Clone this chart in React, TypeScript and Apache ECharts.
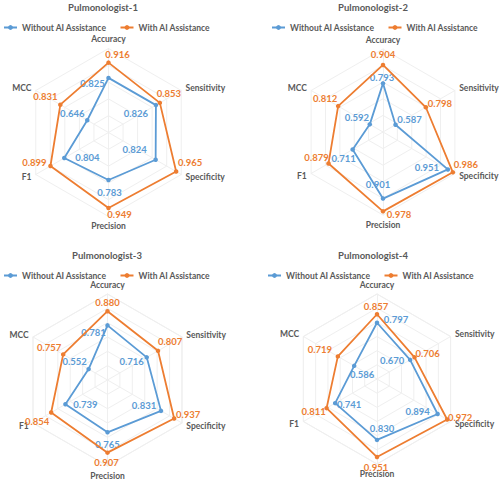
import React, { useEffect, useRef } from "react";
import * as echarts from "echarts";

// ---- data ----
const METRICS = ["Accuracy", "Sensitivity", "Specificity", "Precision", "F1", "MCC"];
const SERIES_NAMES = ["Without AI Assistance", "With AI Assistance"];
const TITLES = ["Pulmonologist-1", "Pulmonologist-2", "Pulmonologist-3", "Pulmonologist-4"];

const p1Without = [0.825, 0.826, 0.824, 0.783, 0.804, 0.646];
const p1With = [0.916, 0.853, 0.965, 0.949, 0.899, 0.831];
const p2Without = [0.793, 0.587, 0.951, 0.901, 0.711, 0.592];
const p2With = [0.904, 0.798, 0.986, 0.978, 0.879, 0.812];
const p3Without = [0.781, 0.716, 0.831, 0.765, 0.739, 0.552];
const p3With = [0.88, 0.807, 0.937, 0.907, 0.854, 0.757];
const p4Without = [0.797, 0.67, 0.894, 0.83, 0.741, 0.586];
const p4With = [0.857, 0.706, 0.972, 0.951, 0.811, 0.719];

const AXIS_MIN = [0.5, 0.5, 0.4, 0.4];
const AXIS_MAX = 1.0;
const AXIS_STEP = 0.1;

const VALUES = [
  [p1Without, p1With],
  [p2Without, p2With],
  [p3Without, p3With],
  [p4Without, p4With],
];

// ---- layout / style ----
const COLORS = ["#5B9BD5", "#ED7D31"];
const TEXT_COLOR = "#595959";
const GRID_COLOR = "#efefef";
const FONT = "Lato, 'Liberation Sans', sans-serif";

const PANELS = [
  { cx: 108.5, cy: 132.5, r: 84, titleX: 103, titleY: 2, legendX: 3, legendY: 23 },
  { cx: 383, cy: 132, r: 83, titleX: 373, titleY: 2, legendX: 271, legendY: 23 },
  { cx: 107.5, cy: 380, r: 86, titleX: 107, titleY: 250, legendX: 3, legendY: 271 },
  { cx: 377, cy: 379, r: 85, titleX: 373, titleY: 250, legendX: 267, legendY: 271 },
];

// label offsets [without, with] per panel, per metric
const LABEL_OFFSETS: number[][][][] = [
  [
    [[-16, 6], [-20, 8], [-21, -10], [1, 12], [23, -1], [-15, -7]],
    [[9, -8], [9, -9], [14, -9], [11, 7], [-16, -4], [-15, -8]],
  ],
  [
    [[-1, -6], [14, -5], [-21, -2], [-5, -14], [-9, 9], [-13, -7]],
    [[0, -10], [14, -4], [13, -8], [16, 3], [-12, -6], [-13, -8]],
  ],
  [
    [[-14, 7], [-15, 4], [-17, -5], [0, 12], [20, 0], [-14, -8]],
    [[0, -9], [12, -9], [14, -4], [-1, 10], [-14, 9], [-14, -7]],
  ],
  [
    [[19, -3], [-18, 1], [-20, -2], [5, -11], [14, 1], [8, 9]],
    [[-1, -8], [13, -4], [13, -2], [-1, 10], [-13, 3], [-18, -7]],
  ],
];

function buildOption() {
  const n = METRICS.length;
  // ECharts radar places indicators counter-clockwise; reorder so reading is clockwise
  const radarOrder = METRICS.map((_, i) => METRICS[(n - i) % n]);

  const title: any[] = [];
  const legend: any[] = [];
  const radar: any[] = [];
  const polar: any[] = [];
  const angleAxis: any[] = [];
  const radiusAxis: any[] = [];
  const series: any[] = [];

  PANELS.forEach((p, k) => {
    const min = AXIS_MIN[k];
    title.push({
      text: TITLES[k],
      left: p.titleX,
      top: p.titleY,
      textAlign: "center",
      padding: 0,
      textStyle: { fontFamily: FONT, fontSize: 9.5, fontWeight: "bold", color: TEXT_COLOR },
    });
    legend.push({
      data: SERIES_NAMES,
      left: p.legendX,
      top: p.legendY,
      padding: 0,
      itemWidth: 13,
      itemHeight: 6,
      itemGap: 13,
      textStyle: { fontFamily: FONT, fontSize: 8.5, fontWeight: "bold", color: TEXT_COLOR },
    });
    radar.push({
      center: [p.cx, p.cy],
      radius: p.r,
      startAngle: 90,
      splitNumber: Math.round((AXIS_MAX - min) / AXIS_STEP),
      indicator: radarOrder.map((name) => ({ name, min, max: AXIS_MAX })),
      axisName: { color: TEXT_COLOR, fontFamily: FONT, fontSize: 8.5, fontWeight: "bold" },
      nameGap: 5,
      splitLine: { lineStyle: { color: GRID_COLOR, width: 1 } },
      splitArea: { show: false },
      axisLine: { lineStyle: { color: GRID_COLOR, width: 1 } },
    });
    polar.push({ center: [p.cx, p.cy], radius: p.r });
    angleAxis.push({
      polarIndex: k,
      type: "value",
      min: 0,
      max: 360,
      startAngle: 90,
      clockwise: true,
      show: false,
    });
    radiusAxis.push({ polarIndex: k, type: "value", min, max: AXIS_MAX, show: false });

    VALUES[k].forEach((vals, s) => {
      const data: any[] = vals.map((v, i) => ({
        value: [v, (i * 360) / n],
        label: { offset: LABEL_OFFSETS[k][s][i] },
      }));
      data.push({ value: [vals[0], 360], symbol: "none", label: { show: false } });
      series.push({
        type: "line",
        name: SERIES_NAMES[s],
        coordinateSystem: "polar",
        polarIndex: k,
        data,
        symbol: "circle",
        symbolSize: 4.5,
        lineStyle: { color: COLORS[s], width: 1.8 },
        itemStyle: { color: COLORS[s] },
        z: 3 + s,
        label: {
          show: true,
          position: "inside",
          color: COLORS[s],
          fontFamily: FONT,
          fontSize: 9.5,
          fontWeight: "bold",
          formatter: (prm: any) => Number(prm.value[0]).toFixed(3),
        },
      });
    });
  });

  return {
    animation: false,
    backgroundColor: "#ffffff",
    title,
    legend,
    radar,
    polar,
    angleAxis,
    radiusAxis,
    series,
  };
}

export default function App() {
  const ref = useRef<HTMLDivElement>(null);
  useEffect(() => {
    if (!ref.current) return;
    const chart = echarts.init(ref.current, undefined, { renderer: "svg" });
    chart.setOption(buildOption() as any);
    return () => chart.dispose();
  }, []);
  return (
    <div
      ref={ref}
      style={{ position: "absolute", left: 0, top: 0, width: 500, height: 481, background: "#fff" }}
    />
  );
}
